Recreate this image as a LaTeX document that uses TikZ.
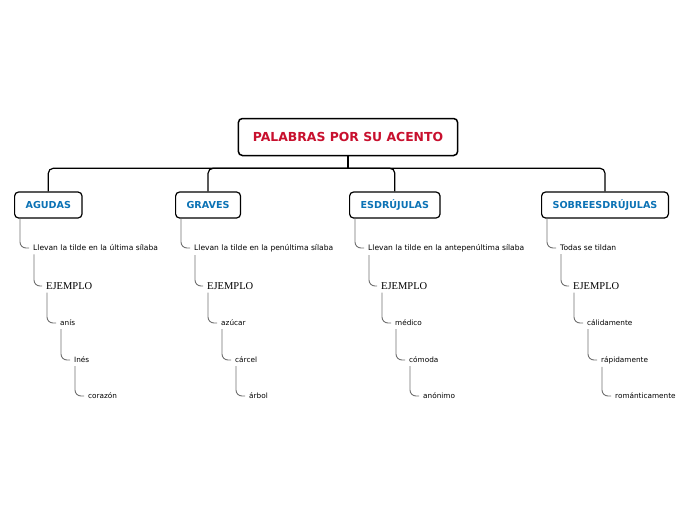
\documentclass[tikz,border=0pt]{standalone}
\usepackage{fontspec}
\setmainfont{Liberation Serif}
\newfontfamily\verd{DejaVu Sans}
\usepackage{xcolor}
\usetikzlibrary{positioning, calc}
\definecolor{titlered}{HTML}{C8102E}
\definecolor{headblue}{HTML}{0B72B5}
\definecolor{twiggray}{HTML}{707070}

\tikzset{
  rootbox/.style={draw, line width=1.5pt, rounded corners=4pt, fill=white,
    inner xsep=14.5pt, minimum height=37pt, text=titlered,
    font=\verd\bfseries\fontsize{12.4}{14}\selectfont},
  headbox/.style={draw, line width=1.2pt, rounded corners=4pt, fill=white,
    inner xsep=11pt, minimum height=26pt, text=headblue,
    font=\verd\bfseries\fontsize{9.6}{11}\selectfont},
  desc/.style={anchor=west, inner xsep=4pt, inner ysep=3pt,
    font=\verd\fontsize{7.3}{9}\selectfont},
  ruletext/.style={desc, font=\verd\fontsize{7.55}{9}\selectfont},
  ejtext/.style={anchor=west, inner xsep=4pt, inner ysep=3pt,
    font=\fontsize{10.5}{12}\selectfont},
  bus/.style={line width=1.2pt, rounded corners=5pt},
  twig/.style={draw=twiggray, line width=0.9pt, rounded corners=6pt}
}

\begin{document}
\begin{tikzpicture}[x=1pt, y=-1pt]
  \useasboundingbox (0,0) rectangle (696,520);

  \node[rootbox] (root) at (348,137) {PALABRAS POR SU ACENTO};
  \coordinate (busc) at ($(root.south)+(0,12)$);
  \draw[line width=1.2pt] (root.south) -- (busc);

  % four columns: name / left edge / heading / rule / three examples
  \foreach \n/\l/\head/\rule/\ea/\eb/\ec in {
      agudas/14/AGUDAS/Llevan la tilde en la última sílaba/anís/Inés/corazón,
      graves/175/GRAVES/Llevan la tilde en la penúltima sílaba/azúcar/cárcel/árbol,
      esdr/349/ESDRÚJULAS/Llevan la tilde en la antepenúltima sílaba/médico/cómoda/anónimo,
      sobre/541/SOBREESDRÚJULAS/Todas se tildan/cálidamente/rápidamente/románticamente} {
    \node[headbox, anchor=west] (\n) at (\l,205) {\head};
    \draw[bus] (busc) -| (\n.north);

    \node[ruletext] (\n-desc) at ({\l+15},248) {\rule};
    \node[ejtext] (\n-ej) at ({\l+28},286) {EJEMPLO};
    \node[desc] (\n-1) at ({\l+42},323) {\ea};
    \node[desc] (\n-2) at ({\l+56},360) {\eb};
    \node[desc] (\n-3) at ({\l+70},396) {\ec};

    \draw[twig] ([xshift=6pt]\n.south west) |- (\n-desc.west);
    \draw[twig] ([xshift=5pt]\n-desc.south west) |- (\n-ej.west);
    \draw[twig] ([xshift=5pt]\n-ej.south west) |- (\n-1.west);
    \draw[twig] ([xshift=5pt]\n-1.south west) |- (\n-2.west);
    \draw[twig] ([xshift=5pt]\n-2.south west) |- (\n-3.west);
  }
\end{tikzpicture}
\end{document}
